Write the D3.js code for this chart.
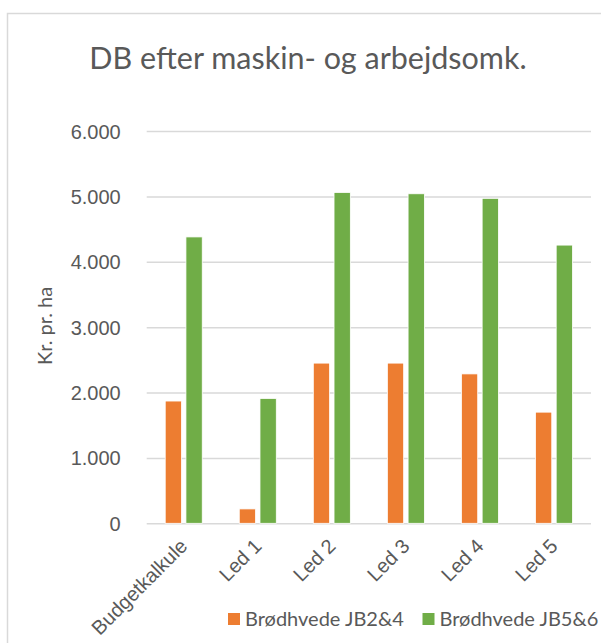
<!DOCTYPE html>
<html>
<head>
<meta charset="utf-8">
<script src="https://cdn.jsdelivr.net/npm/d3@7"></script>
<style>
  html, body { margin: 0; padding: 0; background: #fff; }
  svg { display: block; font-family: Lato, "Open Sans", sans-serif; }
</style>
</head>
<body>
<svg id="chart" width="601" height="643"></svg>
<script>
const categories = ["Budgetkalkule", "Led 1", "Led 2", "Led 3", "Led 4", "Led 5"];
const seriesNames = ["Brødhvede JB2&4", "Brødhvede JB5&6"];
const jb24 = [1870, 220, 2450, 2450, 2285, 1700];
const jb56 = [4380, 1910, 5060, 5040, 4970, 4255];
const yTicks = [0, 1000, 2000, 3000, 4000, 5000, 6000];
const colors = ["#ED7D31", "#70AD47"];
const titleText = "DB efter maskin- og arbejdsomk.";
const yTitle = "Kr. pr. ha";

(function () {
const seriesValues = [jb24, jb56];
const svg = d3.select("#chart");
const textColor = "#595959";
const gridColor = "#d9d9d9";
const fs = "20px";

// chart frame
svg.append("rect")
  .attr("x", 7.5).attr("y", 13.5)
  .attr("width", 620).attr("height", 660)
  .attr("fill", "#fff").attr("stroke", gridColor).attr("stroke-width", 1.5);

const pLeft = 146.7, pRight = 591, pTop = 131, pBottom = 523.3;

const x0 = d3.scaleBand().domain(categories).range([pLeft, pRight])
  .paddingInner(0.5).paddingOuter(0.25);
const x1 = d3.scaleBand().domain(seriesNames).range([0, x0.bandwidth()])
  .paddingInner(0.213).paddingOuter(0);
const y = d3.scaleLinear().domain([0, 6000]).range([pBottom, pTop]);

const fmt = v => d3.format(",")(v).replace(/,/g, ".");

// gridlines + y axis labels
const yAxis = d3.axisLeft(y).tickValues(yTicks).tickFormat(fmt)
  .tickSize(-(pRight - pLeft)).tickPadding(26);
const gy = svg.append("g").attr("transform", `translate(${pLeft},0)`).call(yAxis);
gy.select(".domain").remove();
gy.selectAll(".tick line").attr("stroke", gridColor).attr("stroke-width", 1.5);
gy.selectAll(".tick text").attr("fill", textColor)
  .style("font-size", fs).attr("dy", "0.35em");

// bars
const groups = svg.append("g").selectAll("g")
  .data(categories).join("g")
  .attr("transform", d => `translate(${x0(d)},0)`);
groups.selectAll("rect")
  .data((c, i) => seriesNames.map((s, k) => ({ s, k, v: seriesValues[k][i] })))
  .join("rect")
  .attr("x", d => x1(d.s))
  .attr("width", x1.bandwidth())
  .attr("y", d => y(d.v))
  .attr("height", d => y(0) - y(d.v))
  .attr("fill", d => colors[d.k])
  .attr("stroke", "#fff").attr("stroke-width", 0.8);

// x axis labels
const xAxis = d3.axisBottom(x0).tickSize(0).tickPadding(0);
const gx = svg.append("g").attr("transform", `translate(0,${pBottom})`).call(xAxis);
gx.select(".domain").remove();
gx.selectAll(".tick text")
  .attr("fill", textColor).style("font-size", fs)
  .attr("text-anchor", "end")
  .attr("dy", null).attr("y", null)
  .attr("transform", "translate(5,24) rotate(-45)");

// title
svg.append("text")
  .attr("x", 308).attr("y", 69)
  .attr("text-anchor", "middle")
  .attr("fill", textColor)
  .style("font-size", "30.5px")
  .text(titleText);

// y title
svg.append("text")
  .attr("transform", "translate(52,326) rotate(-90)")
  .attr("text-anchor", "middle")
  .attr("fill", textColor)
  .style("font-size", fs)
  .text(yTitle);

// legend
const legendX = [228, 422.5];
const lg = svg.append("g").selectAll("g").data(seriesNames).join("g")
  .attr("transform", (d, i) => `translate(${legendX[i]},613)`);
lg.append("rect").attr("width", 12).attr("height", 12)
  .attr("fill", (d, i) => colors[i]);
lg.append("text").attr("x", 17).attr("y", 13)
  .attr("fill", textColor).style("font-size", fs)
  .text(d => d);
})();
</script>
</body>
</html>
